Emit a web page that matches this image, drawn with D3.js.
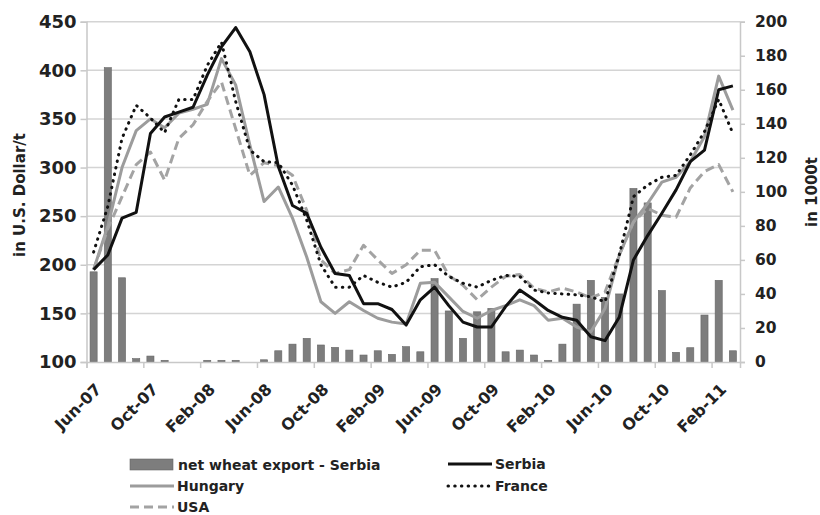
<!DOCTYPE html>
<meta charset='utf-8'>
<html>
<head>
<script src="https://d3js.org/d3.v7.min.js" charset="utf-8"></script>
<style>
  body { margin: 0; background: #fff; }
  text { font-family: "DejaVu Sans", sans-serif; font-weight: bold; fill: #222; }
</style>
</head>
<body>
<div id="chart-container"></div>
<script>
// months Jun-07 .. Mar-11
const months = ['Jun-07','Jul-07','Aug-07','Sep-07','Oct-07','Nov-07','Dec-07',
  'Jan-08','Feb-08','Mar-08','Apr-08','May-08','Jun-08','Jul-08','Aug-08','Sep-08','Oct-08','Nov-08','Dec-08',
  'Jan-09','Feb-09','Mar-09','Apr-09','May-09','Jun-09','Jul-09','Aug-09','Sep-09','Oct-09','Nov-09','Dec-09',
  'Jan-10','Feb-10','Mar-10','Apr-10','May-10','Jun-10','Jul-10','Aug-10','Sep-10','Oct-10','Nov-10','Dec-10',
  'Jan-11','Feb-11','Mar-11'];
const tickLabels = ['Jun-07','Oct-07','Feb-08','Jun-08','Oct-08','Feb-09','Jun-09','Oct-09','Feb-10','Jun-10','Oct-10','Feb-11'];
const leftTicks = [100, 150, 200, 250, 300, 350, 400, 450];
const rightTicks = [0, 20, 40, 60, 80, 100, 120, 140, 160, 180, 200];

// net wheat export Serbia, 1000 t (right axis)
const exportSerbia = [53, 173, 49.5, 2, 3.5, 1, 0, 0, 1, 1, 1, 0, 1.3, 6.6, 10.5, 13.9, 10, 8.6, 7, 4.1,
  6.6, 4.5, 9, 6, 49, 30, 13.9, 29.5, 31.5, 6, 7, 4.1, 1, 10.5, 34, 48, 38, 40, 102, 93.5, 42, 5.7, 8.4, 27.6, 48, 6.6];
// prices, US$/t (left axis)
const serbia = [195, 210, 248, 254, 335, 352, 357, 362, 395, 424, 444, 419, 375, 301, 261, 253, 218, 191, 189, 160,
  160, 154, 138, 164, 177, 158, 141, 136, 136, 157, 174, 164, 153, 146, 143, 126, 122, 146, 205, 230, 253, 277, 306, 318, 380, 384];
const hungary = [195, 240, 300, 338, 350, 341, 356, 360, 365, 412, 385, 323, 265, 280, 248, 208, 162, 150, 162, 153,
  145, 141, 139, 181, 182, 167, 152, 145, 153, 158, 164, 158, 143, 145, 136, 131, 155, 210, 244, 263, 285, 290, 306, 332, 394, 359];
const france = [213, 260, 330, 364, 351, 336, 370, 370, 405, 429, 368, 318, 306, 305, 282, 246, 200, 177, 177, 189,
  182, 177, 182, 198, 200, 188, 181, 177, 184, 189, 188, 174, 171, 170, 169, 167, 162, 210, 270, 282, 290, 292, 313, 337, 370, 335];
const usa = [195, 237, 270, 303, 316, 287, 330, 344, 368, 388, 340, 292, 305, 302, 292, 256, 205, 191, 195, 220,
  205, 191, 200, 215, 215, 189, 179, 164, 177, 188, 190, 176, 172, 176, 172, 166, 172, 210, 244, 258, 251, 249, 279, 296, 303, 275];

const svgWidth = 820, svgHeight = 515;
const plotLeft = 86.5, plotRight = 740, plotTop = 21.7, plotBottom = 362;

const svg = d3.select('#chart-container').append('svg')
  .attr('width', svgWidth).attr('height', svgHeight);

const xBand = d3.scaleBand().domain(months).range([plotLeft, plotRight]).paddingInner(0.5).paddingOuter(0.25);
const xIdx = d3.scaleLinear().domain([0, months.length]).range([plotLeft, plotRight]);
const yL = d3.scaleLinear().domain([100, 450]).range([plotBottom, plotTop]);
const yR = d3.scaleLinear().domain([0, 200]).range([plotBottom, plotTop]);

// gridlines
svg.append('g').selectAll('line').data(leftTicks.slice(1)).enter().append('line')
  .attr('x1', plotLeft).attr('x2', plotRight)
  .attr('y1', d => yL(d)).attr('y2', d => yL(d))
  .attr('stroke', '#d4d4d4').attr('stroke-width', 1.5);

// bars
svg.append('g').selectAll('rect').data(exportSerbia).enter().append('rect')
  .attr('x', (d, i) => xBand(months[i]))
  .attr('width', xBand.bandwidth())
  .attr('y', d => yR(d))
  .attr('height', d => plotBottom - yR(d))
  .attr('fill', '#7d7d7d').attr('stroke', '#666').attr('stroke-width', 0.6);

// axes
const styleAxis = g => {
  g.select('.domain').attr('stroke', '#c8c8c8').attr('stroke-width', 1.5);
  g.selectAll('.tick line').attr('stroke', '#c8c8c8').attr('stroke-width', 1.5);
};

svg.append('g').attr('transform', `translate(${plotLeft},0)`)
  .call(d3.axisLeft(yL).tickValues(leftTicks).tickSize(6).tickPadding(4))
  .call(styleAxis)
  .selectAll('text').style('font-size', '18px').style('font-family', '"DejaVu Sans"').style('font-weight', 'bold').attr('fill', '#222');

svg.append('g').attr('transform', `translate(${plotRight},0)`)
  .call(d3.axisRight(yR).tickValues(rightTicks).tickSize(5).tickPadding(10))
  .call(styleAxis)
  .selectAll('text').style('font-size', '15.5px').style('font-family', '"DejaVu Sans"').style('font-weight', 'bold').attr('fill', '#222');

const xAxis = svg.append('g').attr('transform', `translate(0,${plotBottom})`)
  .call(d3.axisBottom(xIdx)
    .tickValues(d3.range(0, months.length, 4))
    .tickFormat((d, i) => tickLabels[i])
    .tickSize(6))
  .call(styleAxis);
xAxis.selectAll('text')
  .style('font-size', '16px').style('font-family', '"DejaVu Sans"').style('font-weight', 'bold').attr('fill', '#222')
  .style('text-anchor', 'end')
  .attr('dx', '0').attr('dy', '0')
  .attr('transform', 'translate(9,22) rotate(-45)');

// lines
const cx = i => xBand(months[i]) + xBand.bandwidth() / 2;
const line = d3.line().x((d, i) => cx(i)).y(d => yL(d));

const series = [
  {name: 'Hungary', data: hungary, color: '#9c9c9c', dash: null, cap: 'butt'},
  {name: 'USA', data: usa, color: '#a3a3a3', dash: '9,5', cap: 'butt'},
  {name: 'France', data: france, color: '#111', dash: '0.5,6.2', cap: 'round'},
  {name: 'Serbia', data: serbia, color: '#111', dash: null, cap: 'butt'}
];
series.forEach(s => {
  svg.append('path').datum(s.data)
    .attr('d', line)
    .attr('fill', 'none')
    .attr('stroke', s.color)
    .attr('stroke-width', 3)
    .attr('stroke-linecap', s.cap)
    .attr('stroke-linejoin', 'round')
    .attr('stroke-dasharray', s.dash);
});

// axis titles
svg.append('text').attr('transform', 'translate(25,195) rotate(-90)')
  .attr('text-anchor', 'middle').style('font-size', '15px').text('in U.S. Dollar/t');
svg.append('text').attr('transform', 'translate(817,192) rotate(-90)')
  .attr('text-anchor', 'middle').style('font-size', '15px').text('in 1000t');

// legend
const legend = svg.append('g').style('font-size', '14px');
legend.append('rect').attr('x', 130).attr('y', 459).attr('width', 43).attr('height', 11)
  .attr('fill', '#7d7d7d').attr('stroke', '#666').attr('stroke-width', 0.6);
legend.append('text').attr('x', 178).attr('y', 470).text('net wheat export - Serbia');

const legItems = [
  {s: series[0], x: 130, y: 486},
  {s: series[1], x: 130, y: 507},
  {s: series[3], x: 448, y: 464},
  {s: series[2], x: 448, y: 486}
];
legItems.forEach(it => {
  legend.append('line').attr('x1', it.x).attr('x2', it.x + 44)
    .attr('y1', it.y).attr('y2', it.y)
    .attr('stroke', it.s.color).attr('stroke-width', 3)
    .attr('stroke-linecap', it.s.cap)
    .attr('stroke-dasharray', it.s.dash);
  legend.append('text').attr('x', it.x + 47).attr('y', it.y + 5).text(it.s.name);
});
</script>
</body>
</html>
